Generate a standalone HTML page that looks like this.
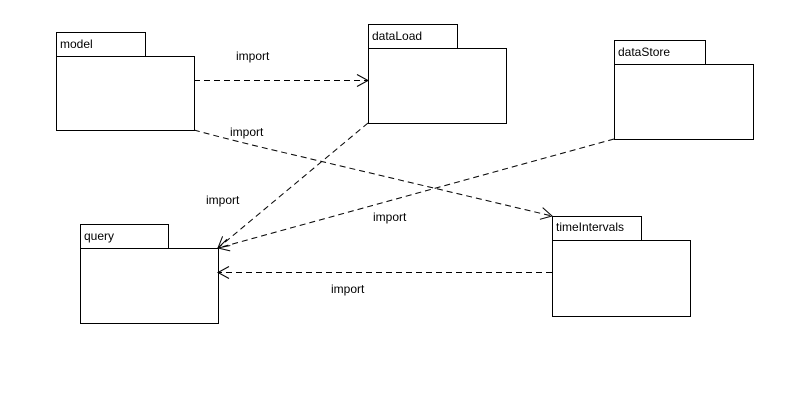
<!DOCTYPE html>
<html><head><style>
body{margin:0;background:#fff;}
svg text{font-family:"Liberation Sans",Arial,sans-serif;font-size:12px;fill:#000;}
</style></head><body>
<svg width="811" height="412" xmlns="http://www.w3.org/2000/svg">
<defs>
<marker id="a" markerWidth="14" markerHeight="14" refX="12" refY="7" orient="auto" markerUnits="userSpaceOnUse">
<path d="M1,1 L12,7 L1,13" fill="none" stroke="#000" stroke-width="1"/>
</marker>
</defs>
<g fill="#fff" stroke="#000" stroke-width="1">
<rect x="56.5" y="32.5" width="89" height="24"/><rect x="56.5" y="56.5" width="138" height="74"/>
<rect x="368.5" y="24.5" width="89" height="24"/><rect x="368.5" y="48.5" width="138" height="75"/>
<rect x="614.5" y="40.5" width="91" height="24"/><rect x="614.5" y="64.5" width="139" height="75"/>
<rect x="80.5" y="224.5" width="88" height="24"/><rect x="80.5" y="248.5" width="138" height="75"/>
<rect x="552.5" y="216.5" width="89" height="24"/><rect x="552.5" y="240.5" width="138" height="76"/>
</g>
<text x="60" y="48">model</text>
<text x="372" y="40">dataLoad</text>
<text x="618" y="56">dataStore</text>
<text x="84" y="240">query</text>
<text x="556" y="231">timeIntervals</text>
<g stroke="#000" stroke-width="1" stroke-dasharray="6,4" fill="none" marker-end="url(#a)">
<line x1="194" y1="80.5" x2="368" y2="80.5"/>
<path d="M194,130 Q230,140 290,154 L552,216"/>
<line x1="368" y1="123" x2="218" y2="248"/>
<line x1="614" y1="139" x2="218" y2="248"/>
<line x1="552" y1="272.5" x2="218" y2="272.5"/>
</g>
<text x="236" y="60">import</text>
<text x="230" y="136">import</text>
<text x="206" y="204">import</text>
<text x="373" y="221">import</text>
<text x="331" y="293">import</text>
</svg>
</body></html>
